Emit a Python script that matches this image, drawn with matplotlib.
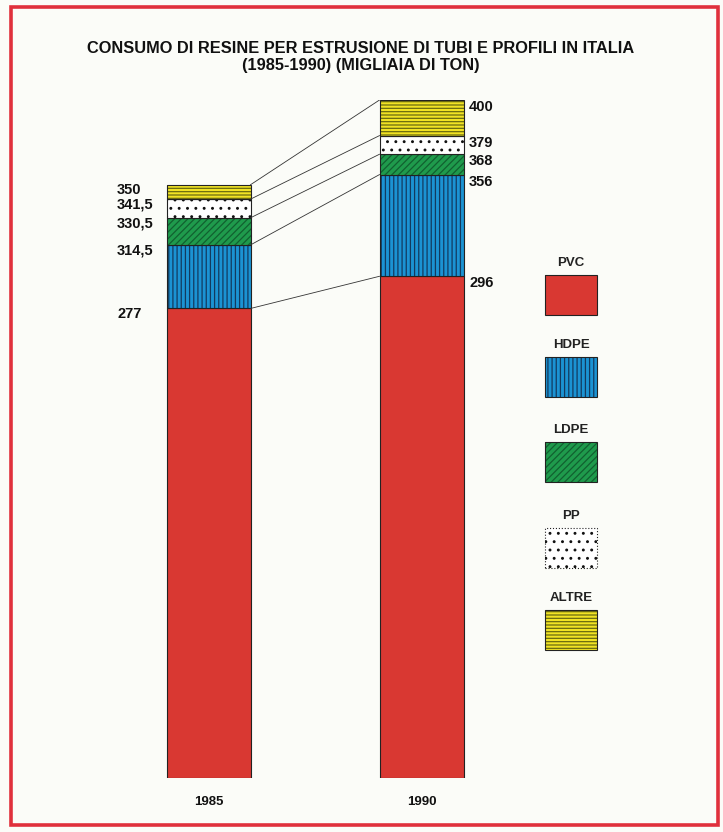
import numpy as np
import matplotlib
matplotlib.use("Agg")
import matplotlib.pyplot as plt
from matplotlib.patches import Rectangle
from matplotlib import font_manager

fams = {f.name for f in font_manager.fontManager.ttflist}
FONT = ["Liberation Sans Narrow", "Liberation Sans", "DejaVu Sans"]
FONT = [f for f in FONT if f in fams] + ["DejaVu Sans"]
plt.rcParams['font.family'] = FONT
plt.rcParams['hatch.linewidth'] = 0.9

# ---- data ----
years = ["1985", "1990"]
materials = ["PVC", "HDPE", "LDPE", "PP", "ALTRE"]
vals_1985 = [277, 37.5, 16, 11, 8.5]
vals_1990 = [296, 60, 12, 11, 21]
labels_1985 = ["277", "314,5", "330,5", "341,5", "350"]
labels_1990 = ["296", "356", "368", "379", "400"]
title_text = "CONSUMO DI RESINE PER ESTRUSIONE DI TUBI E PROFILI IN ITALIA\n(1985-1990) (MIGLIAIA DI TON)"

colors = ["#d93832", "#1b93d3", "#1f9a4c", "#ffffff", "#f1e324"]
hatches = [None, "||||", "/////", "..", "-----"]
hatch_cols = ["#d93832", "#123a60", "#116030", "#111111", "#6a6a10"]

W, H = 723, 832
fig = plt.figure(figsize=(W / 100, H / 100), dpi=100)
fig.patch.set_facecolor("#fbfcf8")

# red frame
fig.add_artist(Rectangle((11 / W, 7 / H), (718 - 11) / W, (825 - 7) / H,
                         transform=fig.transFigure, fill=False,
                         edgecolor="#e0303c", linewidth=2.6))

# main axes: y=0 at px 778, y=400 at px 100 ; x: 0 -> 208.5px, 1 -> 421.5px
px_left, px_right = 100, 530
ax = fig.add_axes([px_left / W, (H - 778) / H, (px_right - px_left) / W, (778 - 100) / H])
ax.set_ylim(0, 400)
ax.set_xlim((px_left - 208.5) / 213, (px_right - 208.5) / 213)
ax.axis("off")
bw = 84 / 213

xs = [0, 1]
data = [vals_1985, vals_1990]
tops = []
for xi, vals in zip(xs, data):
    bottoms = np.concatenate([[0], np.cumsum(vals)[:-1]])
    tops.append(np.cumsum(vals))
    for v, b, c, h, hc in zip(vals, bottoms, colors, hatches, hatch_cols):
        ax.bar(xi, v, bottom=b, width=bw, color=c, edgecolor=hc if h else c,
               hatch=h, linewidth=0)
        ax.bar(xi, v, bottom=b, width=bw, fill=False, edgecolor="#222222",
               linewidth=0.8)

# connector lines
for t0, t1 in zip(tops[0], tops[1]):
    ax.plot([xs[0] + bw / 2, xs[1] - bw / 2], [t0, t1], color="#333333", lw=0.6)

# value labels
for t, lab in zip(tops[0], labels_1985):
    ax.annotate(lab, (xs[0] - bw / 2, t), xytext=(-35.5, -4), textcoords="offset points",
                ha="left", va="center", fontsize=10.5, fontweight="bold", color="#111111")
for t, lab in zip(tops[1], labels_1990):
    ax.annotate(lab, (xs[1] + bw / 2, t), xytext=(4, -5), textcoords="offset points",
                ha="left", va="center", fontsize=10.5, fontweight="bold", color="#111111")

# year labels
for xi, y in zip(xs, years):
    ax.annotate(y, (xi, 0), xytext=(0, -17), textcoords="offset points",
                ha="center", va="center", fontsize=9.5, fontweight="bold", color="#111111")

# title
fig.text(361 / W, 1 - 57 / H, title_text, ha="center", va="center", fontsize=11.8,
         fontweight="bold", color="#111111", linespacing=1.1)

# legend
box_tops = [275, 357, 442, 528, 610]
for m, c, h, hc, bt in zip(materials, colors, hatches, hatch_cols, box_tops):
    r = Rectangle((545 / W, 1 - (bt + 40) / H), 52 / W, 40 / H, transform=fig.transFigure,
                  facecolor=c, edgecolor=hc if h else c, hatch=h, linewidth=0)
    fig.add_artist(r)
    fig.add_artist(Rectangle((545 / W, 1 - (bt + 40) / H), 52 / W, 40 / H,
                             transform=fig.transFigure, fill=False,
                             edgecolor="#222222", linewidth=0.8,
                             linestyle=":" if m == "PP" else "-"))
    fig.text(571 / W, 1 - (bt - 12) / H, m, ha="center", va="center", fontsize=9.5,
             fontweight="bold", color="#222222")

fig.savefig("out.png", dpi=100, facecolor=fig.get_facecolor())
